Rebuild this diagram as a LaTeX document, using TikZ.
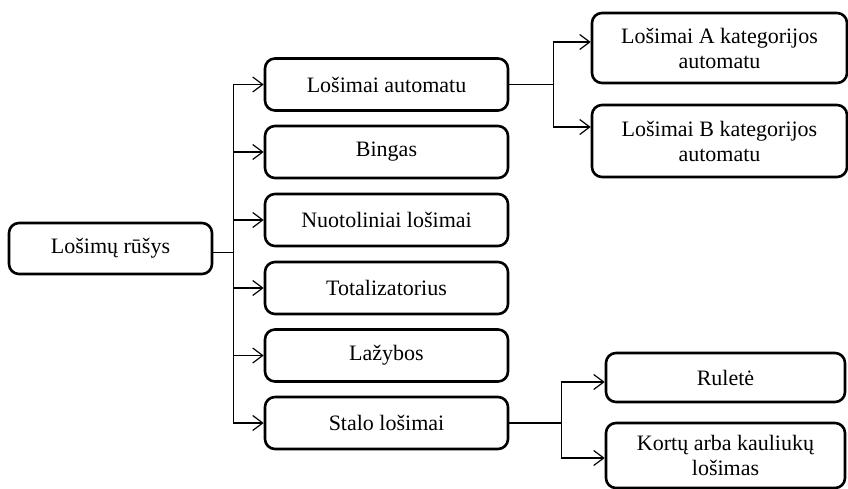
\documentclass[tikz,border=0pt]{standalone}
\usepackage{fontspec}
\setmainfont{Liberation Serif}
\usetikzlibrary{arrows.meta}
\begin{document}
\begin{tikzpicture}[x=1pt,y=-1pt,
  box/.style={draw,line width=2.6pt,rounded corners=10pt,align=center,inner sep=2pt,
    font=\fontsize{22}{25}\selectfont},
  conn/.style={line width=1.2pt},
  arr/.style={conn,-{Straight Barb[length=10pt,width=15pt]}}]
\useasboundingbox (0,0) rectangle (848,489);
\node[box,minimum width=203pt,minimum height=51pt] (root) at (110.5,248.5) {Lošimų rūšys};
\node[box,minimum width=243pt,minimum height=52pt] (m1) at (386.5,84.5) {Lošimai automatu};
\node[box,minimum width=243pt,minimum height=52pt] (m2) at (386.5,152) {Bingas};
\node[box,minimum width=243pt,minimum height=52pt] (m3) at (386.5,220) {Nuotoliniai lošimai};
\node[box,minimum width=243pt,minimum height=52pt] (m4) at (386.5,288) {Totalizatorius};
\node[box,minimum width=243pt,minimum height=52pt] (m5) at (386.5,355.5) {Lažybos};
\node[box,minimum width=243pt,minimum height=52pt] (m6) at (386.5,423) {Stalo lošimai};
\node[box,minimum width=255pt,minimum height=70pt] (a) at (719.5,48) {Lošimai A kategorijos\\automatu};
\node[box,minimum width=255pt,minimum height=72pt] (b) at (719.5,141) {Lošimai B kategorijos\\automatu};
\node[box,minimum width=239pt,minimum height=49pt] (r) at (725.5,377.5) {Ruletė};
\node[box,minimum width=239pt,minimum height=65pt] (k) at (725.5,455.5) {Kortų arba kauliukų\\lošimas};
% trunk
\draw[conn] ([yshift=-4pt]root.east) -- ++(20,0) coordinate (tj);
\coordinate (tt) at (tj |- m1.west);
\coordinate (tb) at (tj |- m6.west);
\draw[conn] (tt) -- (tb);
\foreach \m in {m1,m2,m3,m4,m5,m6}{
  \draw[arr] (tj |- \m.west) -- (\m.west);
}
% upper branch
\draw[conn] (m1.east) -- ++(44,0) coordinate (uj);
\draw[arr] (uj) |- ([yshift=6pt]a.west);
\draw[arr] (uj) |- ([yshift=14pt]b.west);
% lower branch
\draw[conn] (m6.east) -- ++(52,0) coordinate (lj);
\draw[arr] (lj) |- ([yshift=-4.5pt]r.west);
\draw[arr] (lj) |- ([yshift=-2.5pt]k.west);
\end{tikzpicture}
\end{document}
